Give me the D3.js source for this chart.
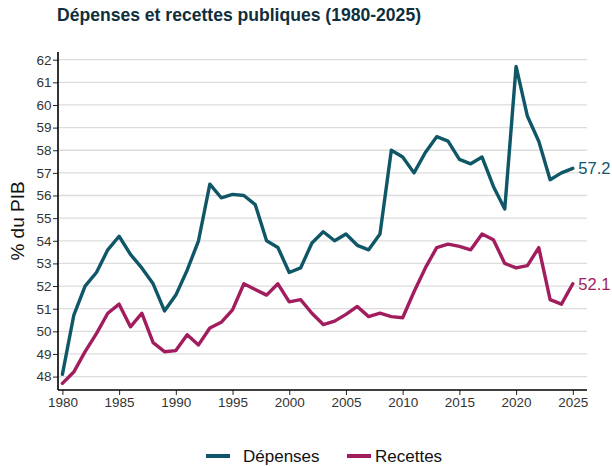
<!DOCTYPE html>
<html>
<head>
<meta charset="utf-8">
<script src="https://cdn.jsdelivr.net/npm/d3@7"></script>
<style>
  html, body { margin: 0; padding: 0; background: #fff; }
  svg { display: block; }
</style>
</head>
<body>
<svg id="chart" width="612" height="466"></svg>
<script>
const years = d3.range(1980, 2026);
const depenses = [48.1, 50.7, 52.0, 52.6, 53.6, 54.2, 53.4, 52.8, 52.1, 50.9,
  51.6, 52.7, 54.0, 56.5, 55.9, 56.05, 56.0, 55.6, 54.0, 53.7,
  52.6, 52.8, 53.9, 54.4, 54.0, 54.3, 53.8, 53.6, 54.3, 58.0,
  57.7, 57.0, 57.9, 58.6, 58.4, 57.6, 57.4, 57.7, 56.4, 55.4,
  61.7, 59.5, 58.4, 56.7, 57.0, 57.2];
const recettes = [47.7, 48.2, 49.1, 49.9, 50.8, 51.2, 50.2, 50.8, 49.5, 49.1,
  49.15, 49.85, 49.4, 50.15, 50.4, 50.95, 52.1, 51.85, 51.6, 52.1,
  51.3, 51.4, 50.8, 50.3, 50.45, 50.75, 51.1, 50.65, 50.8, 50.65,
  50.6, 51.75, 52.8, 53.7, 53.85, 53.75, 53.6, 54.3, 54.05, 53.0,
  52.8, 52.9, 53.7, 51.4, 51.2, 52.1];
const yTicks = d3.range(48, 63);
const xTicks = [1980, 1985, 1990, 1995, 2000, 2005, 2010, 2015, 2020, 2025];
const seriesNames = ["Dépenses", "Recettes"];
const colors = ["#0f5767", "#a11d5e"];

const svg = d3.select("#chart");
const x = d3.scaleLinear().domain([1980, 2025]).range([62.4, 572.8]);
const y = d3.scaleLinear().domain([48, 62]).range([376.6, 59.7]);
const pLeft = 58, pRight = 587, pTop = 52, pBottom = 390;
const font = "'Liberation Sans', Arial, sans-serif";

// grid
svg.append("g").selectAll("line").data(yTicks).join("line")
  .attr("x1", pLeft).attr("x2", pRight)
  .attr("y1", d => y(d)).attr("y2", d => y(d))
  .attr("stroke", "#dcdcdc").attr("stroke-width", 1.3);

// y axis
const yAxis = svg.append("g").attr("transform", `translate(${pLeft},0)`)
  .call(d3.axisLeft(y).tickValues(yTicks).tickSize(5).tickPadding(1.5).tickFormat(d3.format("d")));
yAxis.select(".domain").remove();
yAxis.selectAll("line").attr("stroke", "#222").attr("stroke-width", 1);
yAxis.selectAll("text").attr("font-family", font).attr("font-size", 13.5).attr("fill", "#333");
svg.append("line").attr("x1", pLeft).attr("x2", pLeft).attr("y1", pTop).attr("y2", pBottom)
  .attr("stroke", "#000").attr("stroke-width", 1.6);

// x axis
const xAxis = svg.append("g").attr("transform", `translate(0,${pBottom})`)
  .call(d3.axisBottom(x).tickValues(xTicks).tickSize(5).tickPadding(2).tickFormat(d3.format("d")));
xAxis.select(".domain").remove();
xAxis.selectAll("line").attr("stroke", "#222").attr("stroke-width", 1);
xAxis.selectAll("text").attr("font-family", font).attr("font-size", 13.5).attr("fill", "#333");
svg.append("line").attr("x1", pLeft).attr("x2", pRight).attr("y1", pBottom).attr("y2", pBottom)
  .attr("stroke", "#000").attr("stroke-width", 1.6);

// y axis title
svg.append("text").attr("transform", "translate(24,221) rotate(-90)")
  .attr("text-anchor", "middle").attr("font-family", font).attr("font-size", 19)
  .attr("fill", "#111").text("% du PIB");

// lines
const line = d3.line().x((d, i) => x(years[i])).y(d => y(d));
[depenses, recettes].forEach((s, k) => {
  svg.append("path").datum(s).attr("d", line)
    .attr("fill", "none").attr("stroke", colors[k]).attr("stroke-width", 3.4)
    .attr("stroke-linejoin", "round").attr("stroke-linecap", "round");
  const last = s[s.length - 1];
  svg.append("text").attr("x", x(2025) + 5.5).attr("y", y(last)).attr("dy", "0.35em")
    .attr("font-family", font).attr("font-size", 16.5).attr("fill", colors[k])
    .text(d3.format(".1f")(last));
});

// title
svg.append("text").attr("x", 57).attr("y", 21)
  .attr("font-family", "'Liberation Sans', Arial, sans-serif").attr("font-weight", "bold")
  .attr("font-size", 19).attr("fill", "#0f2f3c")
  .attr("textLength", 364).attr("lengthAdjust", "spacingAndGlyphs")
  .text("Dépenses et recettes publiques (1980-2025)");

// legend
const legX = [206, 347], legTextX = [243, 375];
seriesNames.forEach((n, k) => {
  svg.append("line").attr("x1", legX[k]).attr("x2", legX[k] + 24)
    .attr("y1", 456).attr("y2", 456)
    .attr("stroke", colors[k]).attr("stroke-width", 4);
  svg.append("text").attr("x", legTextX[k]).attr("y", 456).attr("dy", "0.36em")
    .attr("font-family", font).attr("font-size", 17).attr("fill", "#111").text(n);
});
</script>
</body>
</html>
